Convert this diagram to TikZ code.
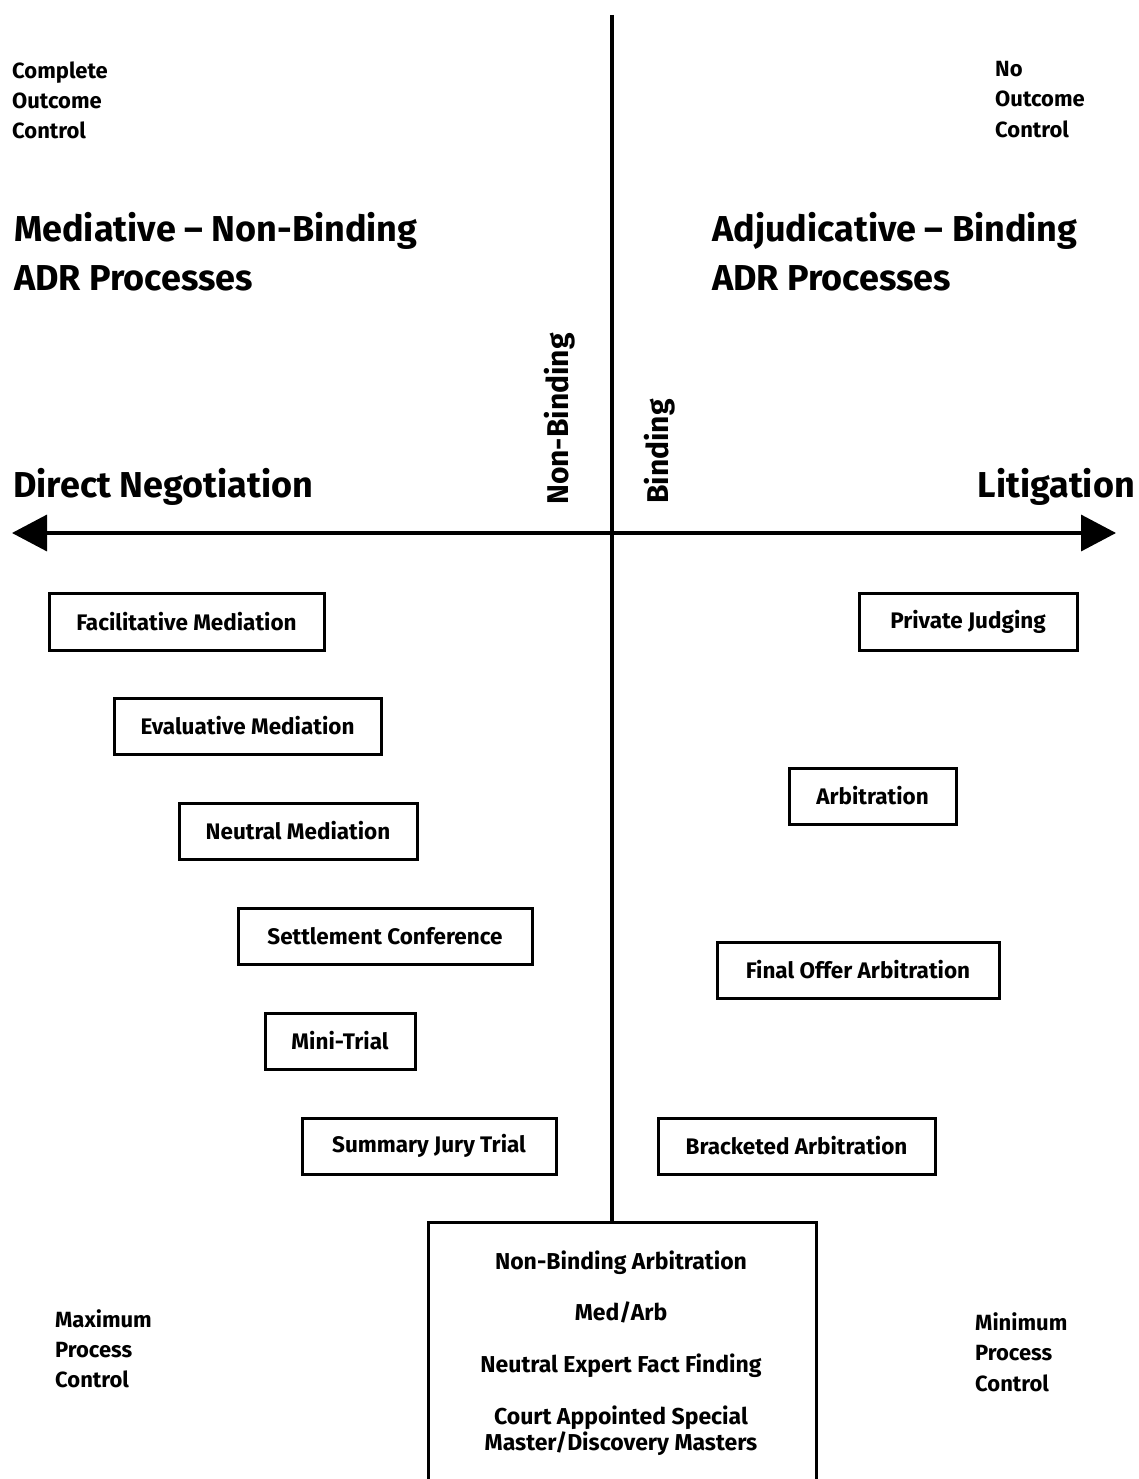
\documentclass[tikz,border=0pt]{standalone}
\usepackage{fontspec}
\setmainfont{Fira Sans}
\usetikzlibrary{arrows.meta}
\begin{document}
\begin{tikzpicture}[x=1pt,y=-1pt,
  proc/.style={draw, line width=3pt, inner sep=0pt, font=\bfseries\fontsize{22.5}{26}\selectfont},
  small/.style={inner sep=0pt, anchor=base west, font=\bfseries\fontsize{22}{26}\selectfont},
  big/.style={inner sep=0pt, font=\bfseries\fontsize{36}{40}\selectfont},
  inbox/.style={inner sep=0pt, anchor=base, font=\bfseries\fontsize{23}{26}\selectfont},
  axis/.style={line width=3.5pt}]
\useasboundingbox (0,0) rectangle (1138,1479);
% corner labels
\node[small] (c1) at (12,79) {Complete};
\node[small] (c2) at (12,109) {Outcome};
\node[small] (c3) at (12,139) {Control};
\node[small] (n1) at (995,77) {No};
\node[small] (n2) at (995,107) {Outcome};
\node[small] (n3) at (995,138) {Control};
\node[small] (m1) at (55,1327) {Maximum};
\node[small] (m2) at (55,1357) {Process};
\node[small] (m3) at (55,1387) {Control};
\node[small] (p1) at (975,1330) {Minimum};
\node[small] (p2) at (975,1360) {Process};
\node[small] (p3) at (975,1391) {Control};
% headings
\node[big, anchor=base west] (h1) at (14,242) {Mediative – Non-Binding};
\node[big, anchor=base west] (h2) at (14,290) {ADR Processes};
\node[big, anchor=base west] (h3) at (712,242) {Adjudicative – Binding};
\node[big, anchor=base west] (h4) at (712,290) {ADR Processes};
\node[big, anchor=base west] (dn) at (13,497) {Direct Negotiation};
\node[big, anchor=base east] (lit) at (1135,497) {Litigation};
% rotated labels
\node[inner sep=0pt, rotate=90, anchor=base west, font=\bfseries\fontsize{30}{34}\selectfont] (nb) at (568,505) {Non-Binding};
\node[inner sep=0pt, rotate=90, anchor=base west, font=\bfseries\fontsize{30}{34}\selectfont] (bd) at (668,504) {Binding};
% boxes
\node[proc, minimum width=275, minimum height=57] (fac) at (186.5,621.5) {Facilitative Mediation};
\node[proc, minimum width=267, minimum height=56] (eva) at (247.5,726) {Evaluative Mediation};
\node[proc, minimum width=238, minimum height=56] (neu) at (298,831) {Neutral Mediation};
\node[proc, minimum width=294, minimum height=56] (set) at (385,936) {Settlement Conference};
\node[proc, minimum width=150, minimum height=56] (min) at (340,1041) {Mini-Trial};
\node[proc, minimum width=254, minimum height=56] (sum) at (429,1146) {Summary Jury Trial};
\node[proc, minimum width=218, minimum height=57] (pri) at (968,621.5) {Private Judging};
\node[proc, minimum width=167, minimum height=56] (arb) at (872.5,796) {Arbitration};
\node[proc, minimum width=282, minimum height=56] (fin) at (858,970) {Final Offer Arbitration};
\node[proc, minimum width=277, minimum height=56] (bra) at (796.5,1146) {Bracketed Arbitration};
% bottom box
\node[draw, line width=3pt, inner sep=0pt, minimum width=388, minimum height=300] (hyb) at (622,1372) {};
\node[inbox] (t1) at (621,1269) {Non-Binding Arbitration};
\node[inbox] (t2) at (621,1320) {Med/Arb};
\node[inbox] (t3) at (621,1372) {Neutral Expert Fact Finding};
\node[inbox] (t4) at (621,1424) {Court Appointed Special};
\node[inbox] (t5) at (621,1450) {Master/Discovery Masters};
% axes
\coordinate (top) at (612,15);
\coordinate (left) at (12,533);
\coordinate (right) at (1116,533);
\draw[axis] (top) -- (top |- hyb.north);
\draw[axis, {Triangle[length=35pt,width=36pt]}-{Triangle[length=35pt,width=36pt]}] (left) -- (right);
\end{tikzpicture}
\end{document}
